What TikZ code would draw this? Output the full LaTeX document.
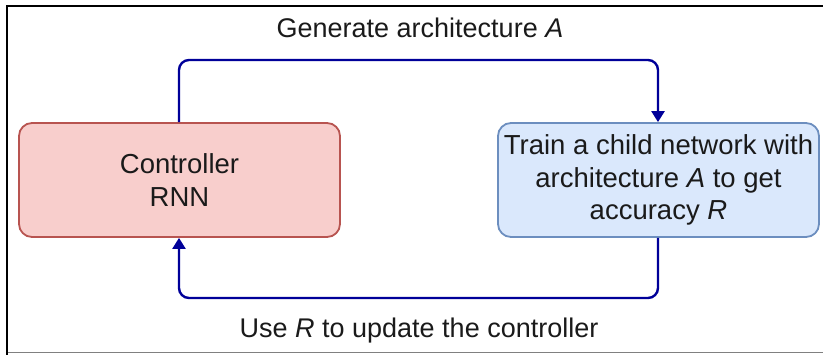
\documentclass[tikz,border=0pt]{standalone}
\usepackage{fontspec}
\setmainfont{Liberation Sans}
\usetikzlibrary{arrows.meta}
\definecolor{redfill}{HTML}{F8CECC}
\definecolor{redline}{HTML}{B85450}
\definecolor{bluefill}{HTML}{DAE8FC}
\definecolor{blueline}{HTML}{6C8EBF}
\definecolor{arrowblue}{HTML}{000099}
\definecolor{txt}{HTML}{1A1A1A}
\tikzset{
  box/.style={draw, line width=1.8pt, rounded corners=13pt, minimum width=321pt, minimum height=114pt, align=center, inner sep=0pt, text=txt, font=\fontsize{27.5}{32.5}\selectfont},
  flow/.style={draw=arrowblue, line width=2.4pt, rounded corners=10pt, -{Triangle[length=11pt,width=13pt]}},
  lbl/.style={text=txt, font=\fontsize{27}{32}\selectfont, inner sep=0pt}
}
\begin{document}
\begin{tikzpicture}[x=1pt,y=-1pt]
\useasboundingbox (0,0) rectangle (823,354);
\fill[white] (0,0) rectangle (823,354);
\draw[line width=2pt] (7,360) -- (7,6) -- (830,6);
\draw[line width=1.2pt, gray] (8,352.5) -- (830,352.5);
\node[box, fill=redfill, draw=redline] (ctrl) at (179.5,180) {Controller\\RNN};
\node[box, fill=bluefill, draw=blueline] (train) at (658.5,180) {Train a child network with\\architecture \textit{A} to get\\accuracy \textit{R}};
\coordinate (t1) at (179,60);
\coordinate (t2) at (658,60);
\coordinate (b1) at (658,298);
\coordinate (b2) at (179,298);
\draw[flow] (ctrl.north -| t1) -- (t1) -- (t2) -- (train.north -| t2);
\draw[flow] (train.south -| b1) -- (b1) -- (b2) -- (ctrl.south -| b2);
\node[lbl] (gen) at (420,28) {Generate architecture \textit{A}};
\node[lbl] (use) at (419,331) {Use \textit{R} to update the controller};
\end{tikzpicture}
\end{document}
